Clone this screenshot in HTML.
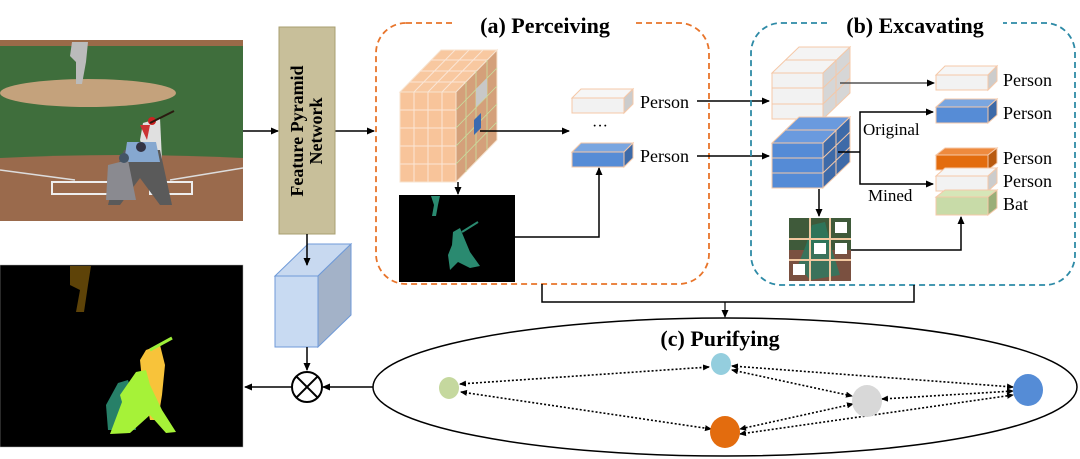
<!DOCTYPE html>
<html><head><meta charset="utf-8"><style>
html,body{margin:0;padding:0;background:#fff;}
svg{display:block;}
text{font-family:"Liberation Serif",serif;}
</style></head><body>
<svg width="1080" height="459" viewBox="0 0 1080 459" xmlns="http://www.w3.org/2000/svg">
<defs>
<marker id="ah" markerWidth="8" markerHeight="8" refX="7" refY="4" orient="auto" markerUnits="userSpaceOnUse">
<path d="M0,0.5 L8,4 L0,7.5 Z" fill="#000"/></marker>
<marker id="as" markerWidth="7" markerHeight="7" refX="6" refY="3.5" orient="auto-start-reverse" markerUnits="userSpaceOnUse">
<path d="M0,0.5 L7,3.5 L0,6.5 Z" fill="#000"/></marker>
<clipPath id="pc"><rect x="0" y="40" width="243" height="181"/></clipPath>
<clipPath id="gc"><rect x="789" y="218" width="62" height="63"/></clipPath>
</defs>

<!-- Photo -->
<g clip-path="url(#pc)">
<rect x="0" y="40" width="243" height="181" fill="#3f6e3c"/>
<rect x="0" y="40" width="243" height="6" fill="#9a6a48"/>
<ellipse cx="88" cy="93" rx="88" ry="14" fill="#c4a27c"/>
<path d="M0,158 Q120,152 243,158 L243,221 L0,221 Z" fill="#9a6a4c"/>
<path d="M0,170 L75,180 M243,168 L170,180" stroke="#ddd" stroke-width="1.5"/>
<rect x="52" y="182" width="60" height="12" fill="none" stroke="#eee" stroke-width="2"/>
<rect x="150" y="182" width="42" height="12" fill="none" stroke="#eee" stroke-width="2"/>
<path d="M72,42 L88,42 L86,62 L82,84 L76,84 L76,62 L70,56 Z" fill="#bbb"/>
<path d="M143,123 L160,118 L162,160 L150,168 L140,140 Z" fill="#e0e0e0"/>
<path d="M140,125 L150,125 L147,140 Z" fill="#c33"/>
<circle cx="152" cy="121" r="4" fill="#c22"/>
<path d="M150,123 L174,111" stroke="#2a1a10" stroke-width="2"/>
<path d="M124,150 L160,150 L172,205 L160,205 L140,178 L120,205 L108,205 L118,165 Z" fill="#5a5a5a"/>
<path d="M127,142 L156,142 L160,162 L124,162 Z" fill="#86a8d0"/>
<circle cx="141" cy="147" r="5" fill="#334"/>
<path d="M108,165 L128,160 L136,200 L106,200 Z" fill="#8a8a90"/>
<circle cx="124" cy="158" r="5" fill="#456"/>
</g>

<line x1="243" y1="131" x2="278" y2="131" stroke="#000" stroke-width="1.5" marker-end="url(#ah)"/>
<line x1="335" y1="131" x2="374" y2="131" stroke="#000" stroke-width="1.5" marker-end="url(#ah)"/>

<!-- FPN -->
<rect x="279" y="27" width="56" height="207" fill="#c8bf9a" stroke="#a89f70" stroke-width="1"/>
<g transform="translate(307,131) rotate(-90)">
<text x="0" y="-4" text-anchor="middle" font-size="18" font-weight="bold">Feature Pyramid</text>
<text x="0" y="15" text-anchor="middle" font-size="18" font-weight="bold">Network</text>
</g>

<!-- light blue cube -->
<path d="M275,276 L308,244 L351,244 L318,276 Z" fill="#c8d9f0" stroke="#6f9ad8" stroke-width="1"/>
<path d="M318,276 L351,244 L351,315 L318,347 Z" fill="#a3b2c8" stroke="#6f9ad8" stroke-width="1"/>
<rect x="275" y="276" width="43" height="71" fill="#c8daf2" stroke="#6f9ad8" stroke-width="1"/>
<line x1="307" y1="234" x2="307" y2="265" stroke="#000" stroke-width="1.5" marker-end="url(#ah)"/>
<line x1="307" y1="347" x2="307" y2="370" stroke="#000" stroke-width="1.5" marker-end="url(#ah)"/>

<circle cx="307" cy="387" r="15" fill="#fff" stroke="#000" stroke-width="2"/>
<line x1="296.4" y1="376.4" x2="317.6" y2="397.6" stroke="#000" stroke-width="2"/>
<line x1="317.6" y1="376.4" x2="296.4" y2="397.6" stroke="#000" stroke-width="2"/>
<line x1="373" y1="387" x2="323" y2="387" stroke="#000" stroke-width="1.5" marker-end="url(#ah)"/>
<line x1="292" y1="387" x2="245" y2="387" stroke="#000" stroke-width="1.5" marker-end="url(#ah)"/>

<!-- output mask -->
<rect x="0" y="265" width="243" height="182" fill="#000" stroke="#aaa" stroke-width="0.5"/>
<path d="M70,266 L91,266 L88,285 L84,312 L76,312 L80,290 L70,285 Z" fill="#5e4308"/>
<path d="M146,350 L160,345 L165,365 L162,395 L158,420 L150,420 L142,380 L140,360 Z" fill="#f8c33a"/>
<path d="M150,350 L172,338" stroke="#9ef03a" stroke-width="3"/>
<path d="M118,383 L128,380 L132,392 L136,430 L108,430 L106,405 Z" fill="#278068"/>
<path d="M136,372 L146,370 L150,385 L162,410 L176,432 L166,433 L150,415 L130,433 L110,434 L122,402 L120,395 Z" fill="#a6f238"/>

<!-- (a) -->
<rect x="376" y="23" width="333" height="261" rx="30" fill="none" stroke="#e8742a" stroke-width="1.8" stroke-dasharray="6,4"/>
<rect x="455" y="10" width="180" height="30" fill="#fff"/>
<text x="545" y="33" text-anchor="middle" font-size="22" font-weight="bold">(a) Perceiving</text>

<g stroke="#f7e3cf" stroke-width="1">
<path d="M400,92 L441,50 L497,50 L456,92 Z" fill="#f8c8a0"/>
<path d="M456,92 L497,50 L497,140 L456,182 Z" fill="#d4a07a"/>
<rect x="400" y="92" width="56" height="90" fill="#f8c49a"/>
</g>
<g stroke="#fbe6d6" stroke-width="1">
<line x1="414" y1="92" x2="414" y2="182"/><line x1="428" y1="92" x2="428" y2="182"/><line x1="442" y1="92" x2="442" y2="182"/>
<line x1="400" y1="110" x2="456" y2="110"/><line x1="400" y1="128" x2="456" y2="128"/><line x1="400" y1="146" x2="456" y2="146"/><line x1="400" y1="164" x2="456" y2="164"/>
<line x1="410" y1="82" x2="466" y2="82"/><line x1="420" y1="71" x2="476" y2="71"/><line x1="431" y1="60" x2="487" y2="60"/>
<line x1="414" y1="92" x2="455" y2="50"/><line x1="428" y1="92" x2="469" y2="50"/><line x1="442" y1="92" x2="483" y2="50"/>
</g>
<g stroke="#c8e0a0" stroke-width="0.8">
<line x1="466" y1="82" x2="466" y2="172"/><line x1="476" y1="71" x2="476" y2="161"/><line x1="487" y1="60" x2="487" y2="150"/>
<line x1="456" y1="110" x2="497" y2="68"/><line x1="456" y1="128" x2="497" y2="86"/><line x1="456" y1="146" x2="497" y2="104"/><line x1="456" y1="164" x2="497" y2="122"/>
</g>
<path d="M476,89 L487,78 L487,96 L476,107 Z" fill="#c8c8c8"/>
<path d="M474,120 L481,113 L481,128 L474,135 Z" fill="#3a6ab0"/>
<line x1="480" y1="131" x2="569" y2="131" stroke="#000" stroke-width="1.5" marker-end="url(#ah)"/>
<line x1="458" y1="182" x2="458" y2="194" stroke="#000" stroke-width="1.5" marker-end="url(#ah)"/>

<rect x="399" y="195" width="116" height="87" fill="#000"/>
<path d="M431,196 L440,196 L438,205 L436,216 L432,216 L434,205 Z" fill="#2a8a70"/>
<path d="M453,232 L460,228 L465,240 L470,252 L480,266 L470,268 L458,262 L450,270 L448,255 L452,245 Z" fill="#2a8a70"/>
<line x1="462" y1="232" x2="478" y2="222" stroke="#2a8a70" stroke-width="2"/>
<polyline points="515,237 599,237 599,168" fill="none" stroke="#000" stroke-width="1.5" marker-end="url(#ah)"/>

<path d="M572,98 L581,89 L633,89 L624,98 Z" fill="#f6f6f6" stroke="#f5c8a8"/>
<path d="M624,98 L633,89 L633,104 L624,113 Z" fill="#ccc" stroke="#f5c8a8"/>
<rect x="572" y="98" width="52" height="15" fill="#f2f2f2" stroke="#f5c8a8"/>
<text x="600" y="131" text-anchor="middle" font-size="16">···</text>
<path d="M572,152 L581,143 L633,143 L624,152 Z" fill="#7aa6e0" stroke="#f5c8a8"/>
<path d="M624,152 L633,143 L633,158 L624,167 Z" fill="#3d6aa8" stroke="#f5c8a8"/>
<rect x="572" y="152" width="52" height="15" fill="#568cd6" stroke="#f5c8a8"/>
<text x="640" y="108" font-size="18">Person</text>
<text x="640" y="162" font-size="18">Person</text>
<line x1="697" y1="101" x2="769" y2="101" stroke="#000" stroke-width="1.5" marker-end="url(#ah)"/>
<line x1="697" y1="156" x2="769" y2="156" stroke="#000" stroke-width="1.5" marker-end="url(#ah)"/>

<!-- (b) -->
<rect x="751" y="23" width="324" height="262" rx="30" fill="none" stroke="#2d8aa6" stroke-width="1.8" stroke-dasharray="6,4"/>
<rect x="828" y="10" width="175" height="30" fill="#fff"/>
<text x="915" y="33" text-anchor="middle" font-size="22" font-weight="bold">(b) Excavating</text>

<g stroke="#f5c8a8" stroke-width="1">
<path d="M772,73 L799,47 L850,47 L823,73 Z" fill="#f4f4f4"/>
<path d="M823,73 L850,47 L850,93 L823,119 Z" fill="#d6d6d6"/>
<rect x="772" y="73" width="51" height="46" fill="#f2f2f2"/>
<line x1="772" y1="88" x2="823" y2="88"/><line x1="772" y1="104" x2="823" y2="104"/>
<line x1="836" y1="60" x2="836" y2="106"/><line x1="823" y1="88" x2="850" y2="62"/><line x1="823" y1="104" x2="850" y2="78"/>
<line x1="785" y1="60" x2="836" y2="60"/>
</g>
<g stroke="#f5c8a8" stroke-width="1">
<path d="M772,143 L799,117 L850,117 L823,143 Z" fill="#6a9ade"/>
<path d="M823,143 L850,117 L850,162 L823,188 Z" fill="#3e6aa8"/>
<rect x="772" y="143" width="51" height="45" fill="#558bd6"/>
<line x1="772" y1="158" x2="823" y2="158"/><line x1="772" y1="173" x2="823" y2="173"/>
<line x1="836" y1="130" x2="836" y2="175"/><line x1="823" y1="158" x2="850" y2="132"/><line x1="823" y1="173" x2="850" y2="147"/>
<line x1="785" y1="130" x2="836" y2="130"/>
</g>
<line x1="840" y1="83" x2="934" y2="83" stroke="#333" stroke-width="1.2" marker-end="url(#ah)"/>
<line x1="838" y1="152" x2="860" y2="152" stroke="#000" stroke-width="1.5"/>
<polyline points="860,152 860,112 933,112" fill="none" stroke="#000" stroke-width="1.5" marker-end="url(#ah)"/>
<polyline points="860,152 860,184 933,184" fill="none" stroke="#000" stroke-width="1.5" marker-end="url(#ah)"/>
<text x="863" y="135" font-size="17">Original</text>
<text x="868" y="201" font-size="17">Mined</text>
<line x1="819" y1="189" x2="819" y2="216" stroke="#000" stroke-width="1.5" marker-end="url(#ah)"/>

<g stroke="#f5c8a8" stroke-width="1">
<path d="M936,75 L945,66 L997,66 L988,75 Z" fill="#f6f6f6"/><path d="M988,75 L997,66 L997,81 L988,90 Z" fill="#ccc"/><rect x="936" y="75" width="52" height="15" fill="#f2f2f2"/>
<path d="M936,107 L945,99 L997,99 L988,107 Z" fill="#7aa6e0"/><path d="M988,107 L997,99 L997,115 L988,123 Z" fill="#3d6aa8"/><rect x="936" y="107" width="52" height="16" fill="#568cd6"/>
<path d="M936,155 L945,148 L997,148 L988,155 Z" fill="#ee8a3e"/><path d="M988,155 L997,148 L997,163 L988,170 Z" fill="#b85a10"/><rect x="936" y="155" width="52" height="15" fill="#e36c0e"/>
<path d="M936,176 L945,168 L997,168 L988,176 Z" fill="#f6f6f6"/><path d="M988,176 L997,168 L997,183 L988,191 Z" fill="#ccc"/><rect x="936" y="176" width="52" height="15" fill="#f2f2f2"/>
<path d="M936,197 L945,190 L997,190 L988,197 Z" fill="#d6e6b8"/><path d="M988,197 L997,190 L997,208 L988,215 Z" fill="#9aae78"/><rect x="936" y="197" width="52" height="18" fill="#c8dba8"/>
</g>
<text x="1003" y="86" font-size="18">Person</text>
<text x="1003" y="119" font-size="18">Person</text>
<text x="1003" y="164" font-size="18">Person</text>
<text x="1003" y="187" font-size="18">Person</text>
<text x="1003" y="210" font-size="18">Bat</text>

<g clip-path="url(#gc)">
<rect x="789" y="218" width="62" height="63" fill="#3f5a3a"/>
<rect x="789" y="250" width="62" height="31" fill="#7a5040"/>
<path d="M812,225 L825,222 L832,250 L840,275 L810,280 L798,265 L806,245 Z" fill="#2a7a62" opacity="0.8"/>
</g>
<g stroke="#f2c8a0" stroke-width="2">
<line x1="810" y1="218" x2="810" y2="281"/><line x1="830" y1="218" x2="830" y2="281"/>
<line x1="789" y1="239" x2="851" y2="239"/><line x1="789" y1="260" x2="851" y2="260"/>
</g>
<g fill="#fff"><rect x="835" y="222" width="12" height="11"/><rect x="814" y="243" width="12" height="11"/><rect x="835" y="243" width="12" height="11"/><rect x="793" y="264" width="12" height="11"/></g>
<polyline points="851,250 961,250 961,217" fill="none" stroke="#000" stroke-width="1.5" marker-end="url(#ah)"/>

<polyline points="542,284 542,302 914,302 914,285" fill="none" stroke="#000" stroke-width="1.5"/>
<line x1="725" y1="302" x2="725" y2="317" stroke="#000" stroke-width="1.2" marker-end="url(#ah)"/>

<!-- (c) -->
<ellipse cx="725" cy="387" rx="352" ry="69" fill="#fff" stroke="#000" stroke-width="1.5"/>
<text x="720" y="346" text-anchor="middle" font-size="22" font-weight="bold">(c) Purifying</text>
<g stroke="#000" stroke-width="1.6" stroke-dasharray="2,2" fill="none" marker-start="url(#as)" marker-end="url(#as)">
<line x1="460" y1="384" x2="709" y2="367"/>
<line x1="461" y1="392" x2="711" y2="429"/>
<line x1="732" y1="366" x2="1013" y2="387"/>
<line x1="732" y1="370" x2="852" y2="396"/>
<line x1="882" y1="399" x2="1013" y2="391"/>
<line x1="853" y1="404" x2="740" y2="429"/>
<line x1="740" y1="434" x2="1013" y2="395"/>
</g>
<ellipse cx="449" cy="388" rx="10" ry="11" fill="#c5d89e"/>
<ellipse cx="721" cy="364" rx="10" ry="11" fill="#94cede"/>
<ellipse cx="867" cy="401" rx="15" ry="16" fill="#d8d8d8"/>
<ellipse cx="1028" cy="390" rx="15" ry="16" fill="#558cd6"/>
<ellipse cx="725" cy="432" rx="15" ry="16" fill="#e36c0e"/>
</svg>
</body></html>
